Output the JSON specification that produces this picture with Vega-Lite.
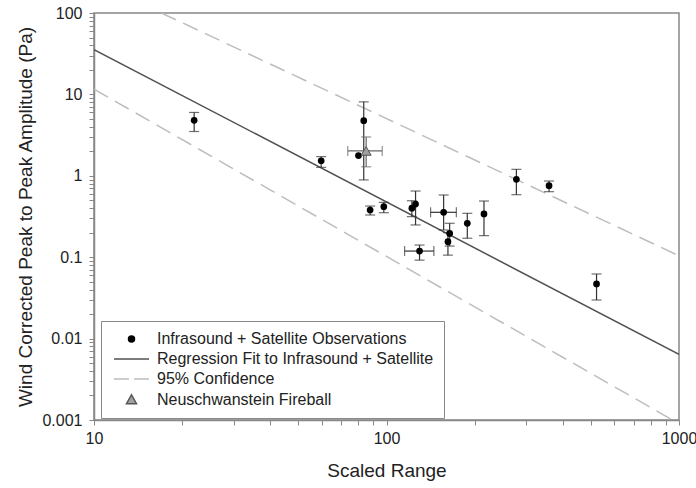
{
  "$schema": "https://vega.github.io/schema/vega-lite/v6.json",
  "width": 585,
  "height": 407,
  "autosize": {"type": "none"},
  "padding": {"left": 94, "top": 13, "right": 17, "bottom": 68},
  "background": "white",
  "config": {
    "font": "Liberation Sans",
    "view": {"stroke": "#888", "strokeWidth": 1.5},
    "axis": {"grid": false, "domainColor": "#888", "domainWidth": 1.5, "tickColor": "#888", "tickSize": 5, "labelColor": "#222", "titleColor": "#222", "labelFontSize": 16, "titleFontSize": 19, "titleFontWeight": "normal", "labelOverlap": false, "labelFlush": false}
  },
  "datasets": {
    "obs": [
      {"x": 22.0, "y": 4.8, "ylo": 3.5, "yhi": 6.0, "xlo": null, "xhi": null},
      {"x": 59.8, "y": 1.53, "ylo": 1.27, "yhi": 1.72, "xlo": null, "xhi": null},
      {"x": 83.6, "y": 4.75, "ylo": 0.89, "yhi": 8.1, "xlo": null, "xhi": null},
      {"x": 80.2, "y": 1.77, "ylo": null, "yhi": null, "xlo": null, "xhi": null},
      {"x": 87.9, "y": 0.38, "ylo": 0.33, "yhi": 0.425, "xlo": null, "xhi": null},
      {"x": 97.9, "y": 0.417, "ylo": 0.352, "yhi": 0.472, "xlo": null, "xhi": null},
      {"x": 122.1, "y": 0.4, "ylo": 0.315, "yhi": 0.494, "xlo": null, "xhi": null},
      {"x": 125.7, "y": 0.45, "ylo": 0.249, "yhi": 0.65, "xlo": null, "xhi": null},
      {"x": 129.7, "y": 0.119, "ylo": 0.092, "yhi": 0.141, "xlo": 115.3, "xhi": 145.2},
      {"x": 156.8, "y": 0.356, "ylo": 0.216, "yhi": 0.581, "xlo": 141.5, "xhi": 173.3},
      {"x": 164.4, "y": 0.196, "ylo": 0.137, "yhi": 0.261, "xlo": null, "xhi": null},
      {"x": 162.2, "y": 0.155, "ylo": 0.106, "yhi": 0.2, "xlo": null, "xhi": null},
      {"x": 188.9, "y": 0.261, "ylo": 0.171, "yhi": 0.346, "xlo": null, "xhi": null},
      {"x": 215.4, "y": 0.34, "ylo": 0.184, "yhi": 0.49, "xlo": null, "xhi": null},
      {"x": 278, "y": 0.906, "ylo": 0.586, "yhi": 1.2, "xlo": null, "xhi": null},
      {"x": 359.5, "y": 0.756, "ylo": 0.638, "yhi": 0.863, "xlo": null, "xhi": null},
      {"x": 522.5, "y": 0.0469, "ylo": 0.0298, "yhi": 0.0622, "xlo": null, "xhi": null}
    ],
    "fireball": [
      {"x": 85.2, "y": 2.02, "ylo": 1.29, "yhi": 3.0, "xlo": 73.7, "xhi": 96.7}
    ],
    "fits": [
      {"line": "regression", "x": 10, "y": 35.5},
      {"line": "regression", "x": 1000, "y": 0.0064},
      {"line": "upper", "x": 17, "y": 100},
      {"line": "upper", "x": 1000, "y": 0.104},
      {"line": "lower", "x": 10, "y": 11.6},
      {"line": "lower", "x": 950, "y": 0.001}
    ],
    "legendItems": [
      {"series": "Infrasound + Satellite Observations"},
      {"series": "Regression Fit to Infrasound + Satellite"},
      {"series": "95% Confidence"},
      {"series": "Neuschwanstein Fireball"}
    ]
  },
  "layer": [
    {
      "data": {"name": "fits"},
      "transform": [{"filter": "datum.line != 'regression'"}],
      "mark": {"type": "line", "color": "#bdbdbd", "strokeWidth": 1.5, "strokeDash": [16, 8], "clip": true},
      "encoding": {
        "x": {"field": "x", "type": "quantitative", "scale": {"type": "log", "domain": [10, 1000], "nice": false},
          "axis": {"title": "Scaled Range", "values": [10, 20, 30, 40, 50, 60, 70, 80, 90, 100, 200, 300, 400, 500, 600, 700, 800, 900, 1000],
            "labelExpr": "indexof([10, 100, 1000], datum.value) >= 0 ? format(datum.value, '~g') : ''", "labelPadding": 5, "titlePadding": 15}},
        "y": {"field": "y", "type": "quantitative", "scale": {"type": "log", "domain": [0.001, 100], "nice": false},
          "axis": {"title": "Wind Corrected Peak to Peak Amplitude (Pa)", "values": [0.001, 0.002, 0.003, 0.004, 0.005, 0.006, 0.007, 0.008, 0.009, 0.01, 0.02, 0.03, 0.04, 0.05, 0.06, 0.07, 0.08, 0.09, 0.1, 0.2, 0.3, 0.4, 0.5, 0.6, 0.7, 0.8, 0.9, 1, 2, 3, 4, 5, 6, 7, 8, 9, 10, 20, 30, 40, 50, 60, 70, 80, 90, 100],
            "labelExpr": "indexof([0.001, 0.01, 0.1, 1, 10, 100], datum.value) >= 0 ? format(datum.value, '~g') : ''", "labelPadding": 7, "titlePadding": 6}},
        "detail": {"field": "line", "type": "nominal"}
      }
    },
    {
      "data": {"name": "fits"},
      "transform": [{"filter": "datum.line == 'regression'"}],
      "mark": {"type": "line", "color": "#505050", "strokeWidth": 1.5, "clip": true},
      "encoding": {
        "x": {"field": "x", "type": "quantitative"},
        "y": {"field": "y", "type": "quantitative"}
      }
    },
    {
      "data": {"name": "obs"},
      "transform": [{"filter": "datum.ylo != null"}],
      "mark": {"type": "rule", "color": "#333", "strokeWidth": 1.2},
      "encoding": {
        "x": {"field": "x", "type": "quantitative"},
        "y": {"field": "ylo", "type": "quantitative"},
        "y2": {"field": "yhi"}
      }
    },
    {
      "data": {"name": "obs"},
      "transform": [{"filter": "datum.ylo != null"}],
      "mark": {"type": "tick", "orient": "horizontal", "color": "#333", "size": 10, "thickness": 1.2},
      "encoding": {
        "x": {"field": "x", "type": "quantitative"},
        "y": {"field": "ylo", "type": "quantitative"}
      }
    },
    {
      "data": {"name": "obs"},
      "transform": [{"filter": "datum.yhi != null"}],
      "mark": {"type": "tick", "orient": "horizontal", "color": "#333", "size": 10, "thickness": 1.2},
      "encoding": {
        "x": {"field": "x", "type": "quantitative"},
        "y": {"field": "yhi", "type": "quantitative"}
      }
    },
    {
      "data": {"name": "obs"},
      "transform": [{"filter": "datum.xlo != null"}],
      "mark": {"type": "rule", "color": "#333", "strokeWidth": 1.2},
      "encoding": {
        "x": {"field": "xlo", "type": "quantitative"},
        "x2": {"field": "xhi"},
        "y": {"field": "y", "type": "quantitative"}
      }
    },
    {
      "data": {"name": "obs"},
      "transform": [{"filter": "datum.xlo != null"}],
      "mark": {"type": "tick", "orient": "vertical", "color": "#333", "size": 10, "thickness": 1.2},
      "encoding": {
        "x": {"field": "xlo", "type": "quantitative"},
        "y": {"field": "y", "type": "quantitative"}
      }
    },
    {
      "data": {"name": "obs"},
      "transform": [{"filter": "datum.xhi != null"}],
      "mark": {"type": "tick", "orient": "vertical", "color": "#333", "size": 10, "thickness": 1.2},
      "encoding": {
        "x": {"field": "xhi", "type": "quantitative"},
        "y": {"field": "y", "type": "quantitative"}
      }
    },
    {
      "data": {"name": "fireball"},
      "mark": {"type": "rule", "color": "#666", "strokeWidth": 1.2},
      "encoding": {
        "x": {"field": "x", "type": "quantitative"},
        "y": {"field": "ylo", "type": "quantitative"},
        "y2": {"field": "yhi"}
      }
    },
    {
      "data": {"name": "fireball"},
      "mark": {"type": "rule", "color": "#666", "strokeWidth": 1.2},
      "encoding": {
        "x": {"field": "xlo", "type": "quantitative"},
        "x2": {"field": "xhi"},
        "y": {"field": "y", "type": "quantitative"}
      }
    },
    {
      "data": {"name": "fireball"},
      "mark": {"type": "tick", "orient": "horizontal", "color": "#666", "size": 10, "thickness": 1.2},
      "encoding": {
        "x": {"field": "x", "type": "quantitative"},
        "y": {"field": "ylo", "type": "quantitative"}
      }
    },
    {
      "data": {"name": "fireball"},
      "mark": {"type": "tick", "orient": "horizontal", "color": "#666", "size": 10, "thickness": 1.2},
      "encoding": {
        "x": {"field": "x", "type": "quantitative"},
        "y": {"field": "yhi", "type": "quantitative"}
      }
    },
    {
      "data": {"name": "fireball"},
      "mark": {"type": "tick", "orient": "vertical", "color": "#666", "size": 10, "thickness": 1.2},
      "encoding": {
        "x": {"field": "xlo", "type": "quantitative"},
        "y": {"field": "y", "type": "quantitative"}
      }
    },
    {
      "data": {"name": "fireball"},
      "mark": {"type": "tick", "orient": "vertical", "color": "#666", "size": 10, "thickness": 1.2},
      "encoding": {
        "x": {"field": "xhi", "type": "quantitative"},
        "y": {"field": "y", "type": "quantitative"}
      }
    },
    {
      "data": {"name": "obs"},
      "mark": {"type": "point", "shape": "circle", "filled": true, "color": "#000", "size": 45, "opacity": 1},
      "encoding": {
        "x": {"field": "x", "type": "quantitative"},
        "y": {"field": "y", "type": "quantitative"}
      }
    },
    {
      "data": {"name": "fireball"},
      "mark": {"type": "point", "shape": "triangle-up", "filled": true, "fill": "#a0a0a0", "stroke": "#555", "strokeWidth": 1, "size": 100, "opacity": 1},
      "encoding": {
        "x": {"field": "x", "type": "quantitative"},
        "y": {"field": "y", "type": "quantitative"}
      }
    },
    {
      "data": {"name": "legendItems"},
      "mark": {"type": "point", "filled": true, "opacity": 0},
      "encoding": {
        "shape": {"field": "series", "type": "nominal",
          "scale": {"domain": ["Infrasound + Satellite Observations", "Regression Fit to Infrasound + Satellite", "95% Confidence", "Neuschwanstein Fireball"],
            "range": ["M1.9,0A0.6,0.6,0,1,1,3.1,0A0.6,0.6,0,1,1,1.9,0Z", "M-1,0L6,0", "M-1,0L2,0M3,0L6,0", "M2.5,-1.05L3.5,0.75L1.5,0.75Z"]},
          "legend": {"orient": "none", "legendX": 7, "legendY": 308, "title": null, "symbolSize": 100, "labelFontSize": 16, "labelLimit": 500, "labelColor": "#222", "labelOffset": 30, "rowPadding": 4, "padding": 10, "strokeColor": "#888", "fillColor": "white", "symbolStrokeWidth": 1.5, "symbolOpacity": 1,
            "encode": {"symbols": {"update": {
              "fill": {"signal": "datum.value === 'Neuschwanstein Fireball' ? '#a0a0a0' : scale('color', datum.value)"},
              "stroke": {"signal": "datum.value === 'Neuschwanstein Fireball' ? '#555555' : scale('color', datum.value)"},
              "strokeWidth": {"value": 1.5},
              "opacity": {"value": 1}}}}}},
        "color": {"field": "series", "type": "nominal",
          "scale": {"domain": ["Infrasound + Satellite Observations", "Regression Fit to Infrasound + Satellite", "95% Confidence", "Neuschwanstein Fireball"],
            "range": ["#000000", "#505050", "#bdbdbd", "#a0a0a0"]},
          "legend": {"orient": "none", "legendX": 7, "legendY": 308, "title": null, "symbolSize": 100, "labelFontSize": 16, "labelLimit": 500, "labelColor": "#222", "labelOffset": 30, "rowPadding": 4, "padding": 10, "strokeColor": "#888", "fillColor": "white", "symbolStrokeWidth": 1.5, "symbolOpacity": 1,
            "encode": {"symbols": {"update": {
              "fill": {"signal": "datum.value === 'Neuschwanstein Fireball' ? '#a0a0a0' : scale('color', datum.value)"},
              "stroke": {"signal": "datum.value === 'Neuschwanstein Fireball' ? '#555555' : scale('color', datum.value)"},
              "strokeWidth": {"value": 1.5},
              "opacity": {"value": 1}}}}}}
      }
    }
  ]
}
